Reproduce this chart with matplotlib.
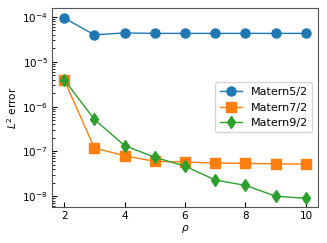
import matplotlib
matplotlib.use("Agg")
import matplotlib.pyplot as plt

rho = [2, 3, 4, 5, 6, 7, 8, 9, 10]
matern52 = [9.5e-5, 4.0e-5, 4.4e-5, 4.3e-5, 4.3e-5, 4.3e-5, 4.3e-5, 4.3e-5, 4.3e-5]
matern72 = [4.0e-6, 1.2e-7, 8.0e-8, 6.0e-8, 5.8e-8, 5.5e-8, 5.4e-8, 5.3e-8, 5.2e-8]
matern92 = [4.0e-6, 5.2e-7, 1.35e-7, 7.4e-8, 4.7e-8, 2.3e-8, 1.75e-8, 1.0e-8, 9.0e-9]
labels = ["Matern5/2", "Matern7/2", "Matern9/2"]

fig = plt.figure(figsize=(3.27, 2.43), dpi=100)
ax = fig.add_axes([52/327, 36/243, 266/327, 199/243])
ax.plot(rho, matern52, marker="o", color="#1f77b4", label=labels[0], markersize=6.5, linewidth=1.0)
ax.plot(rho, matern72, marker="s", color="#ff7f0e", label=labels[1], markersize=6.5, linewidth=1.0)
ax.plot(rho, matern92, marker="d", color="#2ca02c", label=labels[2], markersize=6.5, linewidth=1.0)
ax.set_yscale("log")
ax.set_ylim(10**-8.24, 10**-3.8)
ax.set_xticks([2, 4, 6, 8, 10])
ax.tick_params(which="both", direction="in", labelsize=7.5, pad=3)
ax.tick_params(which="major", length=3.5)
ax.tick_params(which="minor", length=2)
ax.set_xlabel(r"$\rho$", fontsize=7.5, labelpad=1)
ax.set_ylabel(r"$L^2$ error", fontsize=7.5, labelpad=2)
for s in ax.spines.values():
    s.set_color("#555555")
ax.legend(loc="center right", fontsize=8)
fig.savefig("out.png", dpi=100)
